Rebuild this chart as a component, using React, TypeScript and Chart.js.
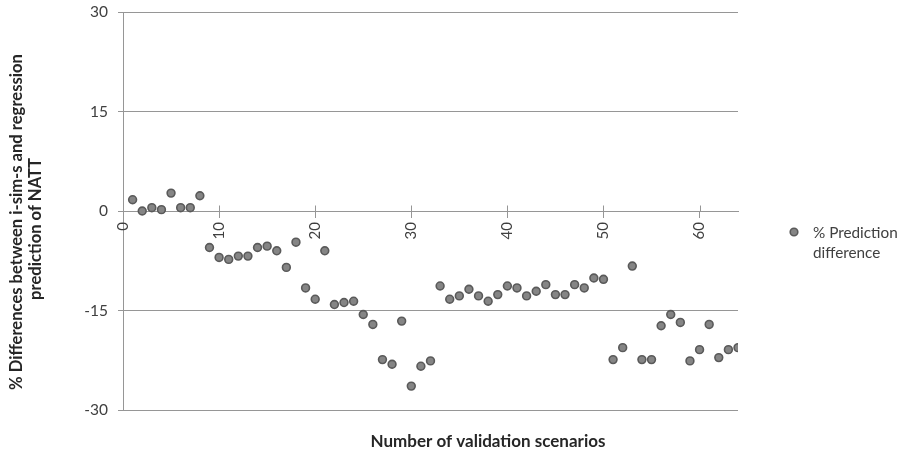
import React, { useEffect, useRef } from "react";
import { Chart, registerables } from "chart.js";

Chart.register(...registerables);

const scenarios = [
  1, 2, 3, 4, 5, 6, 7, 8, 9, 10, 11, 12, 13, 14, 15, 16, 17, 18, 19, 20, 21, 22,
  23, 24, 25, 26, 27, 28, 29, 30, 31, 32, 33, 34, 35, 36, 37, 38, 39, 40, 41, 42,
  43, 44, 45, 46, 47, 48, 49, 50, 51, 52, 53, 54, 55, 56, 57, 58, 59, 60, 61, 62,
  63, 64,
];
const predictionDiff = [
  1.7, 0.0, 0.5, 0.2, 2.7, 0.5, 0.5, 2.3, -5.5, -7.0, -7.3, -6.8, -6.8, -5.5,
  -5.3, -6.0, -8.5, -4.7, -11.6, -13.3, -6.0, -14.1, -13.8, -13.6, -15.6, -17.1,
  -22.4, -23.1, -16.6, -26.4, -23.4, -22.6, -11.3, -13.3, -12.8, -11.8, -12.8,
  -13.6, -12.6, -11.3, -11.6, -12.8, -12.1, -11.1, -12.6, -12.6, -11.1, -11.6,
  -10.1, -10.3, -22.4, -20.6, -8.3, -22.4, -22.4, -17.3, -15.6, -16.8, -22.6,
  -20.9, -17.1, -22.1, -20.9, -20.6,
];
const seriesLabel = ["% Prediction", "difference"];
const yTitle = ["% Differences between i-sim-s and regression", "prediction of NATT"];
const xTitle = "Number of validation scenarios";
const yMin = -30;
const yMax = 30;
const yStep = 15;
const xMin = 0;
const xMax = 64;
const xStep = 10;

const FONT = "Lato, 'Open Sans', sans-serif";
const GRID = "#969696";
const POINT_FILL = "#858585";
const POINT_BORDER = "#5a5a5a";

const annotations = {
  id: "annotations",
  afterDraw(chart: any) {
    const { ctx, scales } = chart;
    const x = scales.x;
    const y = scales.y;
    const y0 = Math.round(y.getPixelForValue(0)) + 0.5;
    ctx.save();
    ctx.strokeStyle = GRID;
    ctx.lineWidth = 1;
    for (let v = xStep; v <= xMax; v += xStep) {
      const px = Math.round(x.getPixelForValue(v)) + 0.5;
      ctx.beginPath();
      ctx.moveTo(px, y0 - 6);
      ctx.lineTo(px, y0);
      ctx.stroke();
    }
    ctx.fillStyle = "#262626";
    ctx.font = `bold 16.6px ${FONT}`;
    ctx.textAlign = "center";
    ctx.textBaseline = "middle";
    const cy = [222, 229];
    const cx = [17, 36];
    for (let i = 0; i < yTitle.length; i++) {
      ctx.save();
      ctx.translate(cx[i], cy[i]);
      ctx.rotate(-Math.PI / 2);
      ctx.fillText(yTitle[i], 0, 0);
      ctx.restore();
    }
    ctx.font = `bold 17px ${FONT}`;
    ctx.fillText(xTitle, 488, 442);
    ctx.beginPath();
    ctx.arc(794, 232, 3.8, 0, Math.PI * 2);
    ctx.fillStyle = POINT_FILL;
    ctx.fill();
    ctx.lineWidth = 1.6;
    ctx.strokeStyle = POINT_BORDER;
    ctx.stroke();
    ctx.fillStyle = "#404040";
    ctx.font = `15.3px ${FONT}`;
    ctx.textAlign = "left";
    ctx.fillText(seriesLabel[0], 813, 233);
    ctx.fillText(seriesLabel[1], 813, 253);
    ctx.restore();
  },
};

export default function App() {
  const ref = useRef<HTMLCanvasElement | null>(null);
  useEffect(() => {
    if (!ref.current) return;
    const chart = new Chart(ref.current, {
      type: "scatter",
      data: {
        datasets: [
          {
            label: seriesLabel.join(" "),
            data: scenarios.map((s, i) => ({ x: s, y: predictionDiff[i] })),
            pointRadius: 3.9,
            pointBackgroundColor: POINT_FILL,
            pointBorderColor: POINT_BORDER,
            pointBorderWidth: 1.6,
          },
        ],
      },
      options: {
        animation: false,
        responsive: true,
        maintainAspectRatio: false,
        layout: { padding: { left: 0, right: 168, top: 12, bottom: 46 } },
        plugins: {
          legend: { display: false },
          tooltip: { enabled: false },
          title: { display: false },
        },
        scales: {
          y: {
            type: "linear",
            min: yMin,
            max: yMax,
            afterFit(scale: any) {
              scale.width = 123;
              scale.paddingTop = 0;
              scale.paddingBottom = 0;
            },
            ticks: {
              stepSize: yStep,
              color: "#404040",
              font: { family: FONT, size: 15.5 },
              padding: 10,
            },
            grid: { color: GRID, lineWidth: 1, tickLength: 5, drawTicks: true },
            border: { color: GRID, width: 1 },
          },
          x: {
            type: "linear",
            position: { y: 0 } as any,
            min: xMin,
            max: xMax,
            ticks: {
              stepSize: xStep,
              includeBounds: false,
              minRotation: 90,
              maxRotation: 90,
              color: "#404040",
              font: { family: FONT, size: 15 },
              padding: 5,
            },
            grid: { drawOnChartArea: false, drawTicks: true, tickLength: 6, color: GRID },
            border: { color: GRID, width: 1 },
          },
        },
      },
      plugins: [annotations],
    });
    return () => chart.destroy();
  }, []);
  return (
    <div style={{ position: "fixed", left: 0, top: 0, width: 906, height: 456, background: "#fff" }}>
      <canvas ref={ref} />
    </div>
  );
}
